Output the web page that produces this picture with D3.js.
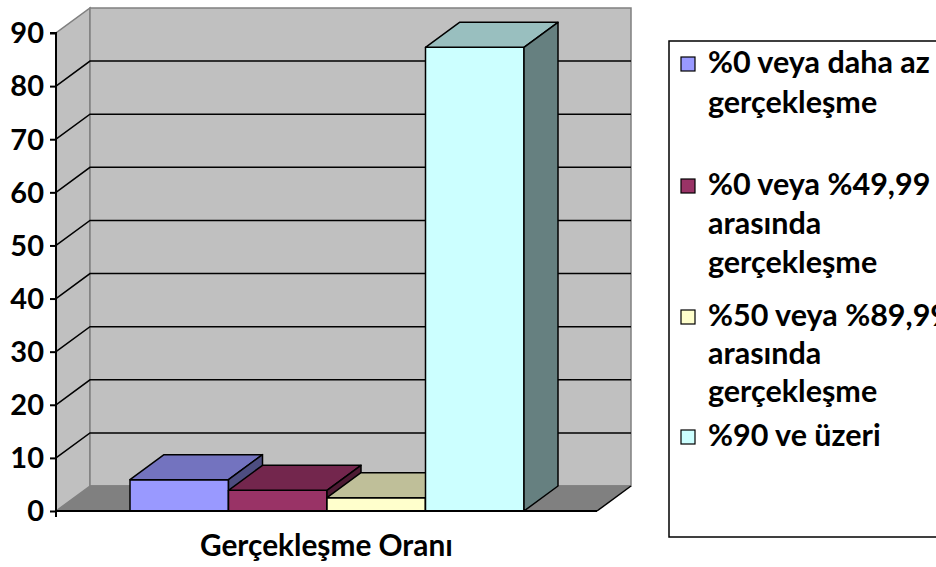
<!DOCTYPE html>
<html><head><meta charset="utf-8">
<script src="https://cdn.jsdelivr.net/npm/d3@7"></script>
<style>body{margin:0;background:#fff}svg{display:block}text{font-family:Lato,"Open Sans",sans-serif;font-weight:bold;fill:#000}</style>
</head><body><svg id="c" width="936" height="567"></svg>
<script>
const categories = ["Gerçekleşme Oranı"];
const seriesNames = ["%0 veya daha az gerçekleşme","%0 veya %49,99 arasında gerçekleşme","%50 veya %89,99 arasında gerçekleşme","%90 ve üzeri"];
const legendLines = [["%0 veya daha az","gerçekleşme"],["%0 veya %49,99","arasında","gerçekleşme"],["%50 veya %89,99","arasında","gerçekleşme"],["%90 ve üzeri"]];
const values = [5.9, 3.9, 2.5, 87.3];
const seriesColors = ["#9999FF","#993366","#FFFFCC","#CCFFFF"];
const yTicks = [0,10,20,30,40,50,60,70,80,90];

const svg = d3.select("#c");
const x0 = 56, x1 = 597, dx = 34, dy = -25;
const y = d3.scaleLinear().domain([0,90]).range([511,33]);
const xb = d3.scaleBand().domain(seriesNames).range([130,524]).paddingInner(0);
const shade = (c,k)=>{const r=d3.rgb(c);return d3.rgb(r.r*k,r.g*k,r.b*k).formatHex();};
const poly = pts => pts.map(p=>p.join(",")).join(" ");

// walls
const g = svg.append("g");
g.append("polygon").attr("points", poly([[x0,y(0)],[x0,y(90)],[x0+dx,y(90)+dy],[x0+dx,y(0)+dy]]))
  .attr("fill","#C0C0C0").attr("stroke","#808080").attr("stroke-width",1.5);
g.append("polygon").attr("points", poly([[x0+dx,y(0)+dy],[x0+dx,y(90)+dy],[x1+dx,y(90)+dy],[x1+dx,y(0)+dy]]))
  .attr("fill","#C0C0C0").attr("stroke","#808080").attr("stroke-width",1.5);
// gridlines
yTicks.filter(v=>v>0 && v<90).forEach(v=>{
  g.append("polyline").attr("points", poly([[x0,y(v)],[x0+dx,y(v)+dy],[x1+dx,y(v)+dy]]))
   .attr("fill","none").attr("stroke","#000").attr("stroke-width",1.5);
});
// floor
g.append("polygon").attr("points", poly([[x0,y(0)],[x1,y(0)],[x1+dx,y(0)+dy],[x0+dx,y(0)+dy]]))
  .attr("fill","#808080").attr("stroke","none");
g.append("line").attr("x1",x0+dx).attr("y1",y(0)+dy).attr("x2",x1+dx).attr("y2",y(0)+dy).attr("stroke","#808080").attr("stroke-width",1.5);
g.append("line").attr("x1",x1).attr("y1",y(0)).attr("x2",x1+dx).attr("y2",y(0)+dy).attr("stroke","#000").attr("stroke-width",1.5);

// bars
seriesNames.forEach((s,i)=>{
  const a = xb(s), b = xb(s)+xb.bandwidth(), t = y(values[i]), b0 = y(0);
  const bg = g.append("g").attr("stroke","#000").attr("stroke-width",1.5).attr("stroke-linejoin","round");
  bg.append("polygon").attr("points", poly([[a,b0],[a,t],[b,t],[b,b0]])).attr("fill",seriesColors[i]);
  bg.append("polygon").attr("points", poly([[a,t],[a+dx,t+dy],[b+dx,t+dy],[b,t]])).attr("fill",shade(seriesColors[i],0.75));
  bg.append("polygon").attr("points", poly([[b,t],[b+dx,t+dy],[b+dx,b0+dy],[b,b0]])).attr("fill",shade(seriesColors[i],0.5));
});

// axes
const ax = svg.append("g").attr("transform",`translate(${x0},0)`)
  .call(d3.axisLeft(y).tickValues(yTicks).tickSize(6).tickPadding(6).tickFormat(d3.format("d")));
ax.select(".domain").attr("stroke","#000").attr("stroke-width",2).attr("d",`M-6,${y(90)}H0V${y(0)+6}`);
ax.selectAll(".tick line").attr("stroke","#000").attr("stroke-width",2);
ax.selectAll(".tick text").attr("font-size",29).attr("font-family","Lato").attr("font-weight","bold").attr("dy","0.34em");
svg.append("line").attr("x1",x0).attr("y1",y(0)).attr("x2",x1).attr("y2",y(0)).attr("stroke","#000").attr("stroke-width",2);

// x title
svg.append("text").attr("x",200).attr("y",556).attr("font-size",29.8).text(categories[0]);

// legend
svg.append("rect").attr("x",669).attr("y",41).attr("width",300).attr("height",496)
  .attr("fill","#fff").attr("stroke","#000").attr("stroke-width",1.5);
const baselines = [[73,113],[195,234,273],[326,364,402],[446]];
legendLines.forEach((lines,i)=>{
  svg.append("rect").attr("x",681).attr("y",baselines[i][0]-16).attr("width",14).attr("height",14)
    .attr("fill",seriesColors[i]).attr("stroke","#000").attr("stroke-width",1.2);
  lines.forEach((ln,j)=>{
    svg.append("text").attr("x",708).attr("y",baselines[i][j]).attr("font-size",30.5).text(ln);
  });
});
</script></body></html>
